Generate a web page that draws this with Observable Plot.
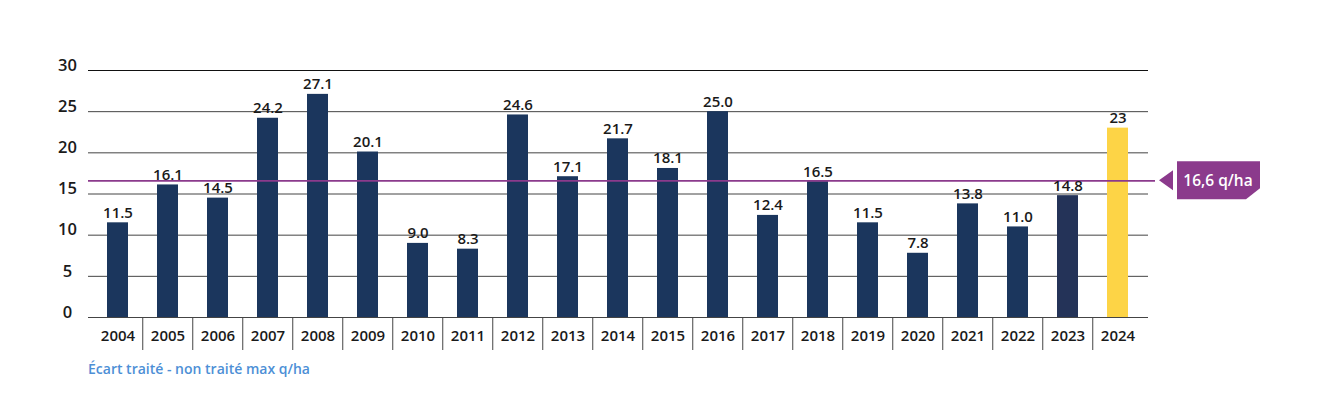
<!DOCTYPE html>
<html>
<head>
<meta charset="utf-8">
<script src="https://cdn.jsdelivr.net/npm/d3@7"></script>
<script src="https://cdn.jsdelivr.net/npm/@observablehq/plot@0.6"></script>
<style>
  body { margin: 0; background: #fff; font-family: "Open Sans", "Lato", sans-serif; }
  #caption { margin: 6px 0 0 88px; color: #4d8fd6; font-size: 14px; font-weight: 600; line-height: 16px; }
</style>
</head>
<body>
<div id="chart"></div>
<div id="caption">Écart traité - non traité max q/ha</div>
<script>
const years = ["2004","2005","2006","2007","2008","2009","2010","2011","2012","2013","2014","2015","2016","2017","2018","2019","2020","2021","2022","2023","2024"];
const values = [11.5,16.1,14.5,24.2,27.1,20.1,9.0,8.3,24.6,17.1,21.7,18.1,25.0,12.4,16.5,11.5,7.8,13.8,11.0,14.8,23];
const valueLabels = ["11.5","16.1","14.5","24.2","27.1","20.1","9.0","8.3","24.6","17.1","21.7","18.1","25.0","12.4","16.5","11.5","7.8","13.8","11.0","14.8","23"];
const yTicks = [0,5,10,15,20,25,30];
const average = 16.6;
const averageLabel = "16,6 q/ha";

const data = years.map((y, i) => ({year: y, value: values[i], label: valueLabels[i]}));

const W = 1337, H = 355, mL = 88, mR = 189, mT = 70, mB = 38;
const step = (W - mL - mR) / years.length;
const font = "'Open Sans', Lato, sans-serif";

const fillFor = d => d.year === "2024" ? "#fdd446" : d.year === "2023" ? "#243358" : "#1b365d";

const plot = Plot.plot({
  width: W, height: H,
  marginLeft: mL, marginRight: mR, marginTop: mT, marginBottom: mB,
  style: {fontFamily: font, background: "#fff", overflow: "visible"},
  x: {domain: years, paddingInner: 0.58, paddingOuter: 0.29},
  y: {domain: [0, 30]},
  marks: [
    Plot.ruleY(yTicks, {stroke: d => d === 30 ? "#111" : "#444", strokeWidth: 1}),
    Plot.barY(data, {x: "year", y: "value", fill: fillFor}),
    Plot.ruleY([average], {stroke: "#8b3a8c", strokeWidth: 1.8, insetRight: -7}),
    Plot.text(data, {x: "year", y: "value", text: "label", dy: -5, lineAnchor: "bottom",
      fontSize: 15, fontWeight: 600, fill: "#1a1a1a"}),
    Plot.ruleX(years.slice(1), {x: d => d, dx: -step / 2, stroke: "#444", strokeWidth: 1,
      insetTop: H - mT - mB, insetBottom: -33}),
    Plot.axisX({tickSize: 0, tickPadding: 13, fontSize: 15, fontWeight: 600, fill: "#1a1a1a", label: null}),
    Plot.axisY({ticks: yTicks, tickSize: 0, tickPadding: 21, textAnchor: "middle", dy: -5,
      fontSize: 16.5, fontWeight: 600, fill: "#1a1a1a", label: null})
  ]
});

const svg = d3.select(plot);
const y0 = plot.scale("y").apply(average);
const g = svg.append("g");
g.append("path")
  .attr("d", `M1159,${y0} L1173,${y0 - 10} L1173,${y0 + 10} Z`)
  .attr("fill", "#8b3a8c");
g.append("path")
  .attr("d", `M1177,${y0 - 19} H1260 V${y0 + 8} L1246,${y0 + 19} H1177 Z`)
  .attr("fill", "#8b3a8c");
g.append("text")
  .attr("x", 1218).attr("y", y0)
  .attr("text-anchor", "middle").attr("dominant-baseline", "central")
  .attr("fill", "#fff").attr("font-size", 15.5).attr("font-weight", 600)
  .attr("font-family", font)
  .text(averageLabel);

document.getElementById("chart").appendChild(plot);
</script>
</body>
</html>
